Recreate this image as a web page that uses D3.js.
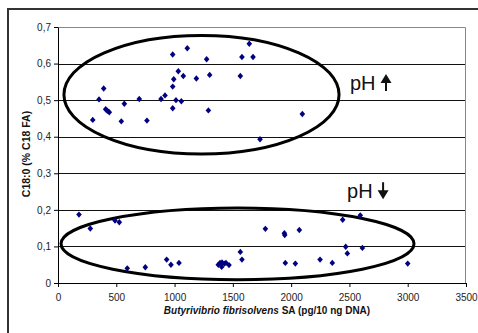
<!DOCTYPE html>
<html>
<head>
<meta charset="utf-8">
<script src="https://cdn.jsdelivr.net/npm/d3@7"></script>
<style>
  body { margin: 0; background: #fff; }
  svg { display: block; font-family: Arial, "Liberation Sans", sans-serif; }
</style>
</head>
<body>
<div id="chart"></div>
<script>
  // Upper group (pH up)
  const highX = [298, 352, 392, 409, 423, 440, 543, 569, 697, 763, 884, 918, 984, 984, 984, 993, 1012, 1032, 1058, 1075,
                 1109, 1187, 1275, 1290, 1301, 1564, 1578, 1641, 1673, 1733, 2096];
  const highY = [0.446, 0.502, 0.532, 0.475, 0.471, 0.467, 0.442, 0.490, 0.503, 0.444, 0.503, 0.513, 0.625, 0.537, 0.478, 0.557, 0.500, 0.579, 0.497, 0.566,
                 0.642, 0.559, 0.612, 0.472, 0.569, 0.566, 0.618, 0.654, 0.618, 0.393, 0.462];

  // Lower group (pH down)
  const lowX = [180, 277, 489, 526, 594, 749, 932, 969, 1038, 1375, 1390, 1404, 1407, 1427, 1441, 1467, 1564, 1578,
                1779, 1942, 1945, 1950, 2036, 2070, 2248, 2353, 2442, 2468, 2482, 2593, 2611, 3000];
  const lowY = [0.187, 0.149, 0.171, 0.166, 0.040, 0.043, 0.064, 0.050, 0.055, 0.050, 0.055, 0.044, 0.056, 0.053, 0.055, 0.049, 0.085, 0.064,
                0.148, 0.136, 0.131, 0.055, 0.053, 0.145, 0.064, 0.055, 0.173, 0.099, 0.081, 0.185, 0.096, 0.053];

  // Ellipses drawn round each group, in data units: [cx, cy, rx, ry]
  const highEllipse = [1231, 0.515, 1180, 0.162];
  const lowEllipse = [1540, 0.107, 1514, 0.098];

  const xTicks = [0, 500, 1000, 1500, 2000, 2500, 3000, 3500];
  const yTicks = [0, 0.1, 0.2, 0.3, 0.4, 0.5, 0.6, 0.7];
  const yTickLabels = ["0", "0,1", "0,2", "0,3", "0,4", "0,5", "0,6", "0,7"];

  const W = 478, H = 333;
  const margin = { top: 27, right: 12, bottom: 50, left: 58 };
  const width = W - margin.left - margin.right;
  const height = H - margin.top - margin.bottom;

  const svg = d3.select("#chart").append("svg")
      .attr("width", W)
      .attr("height", H);

  // outer chart frame (cropped on right/bottom)
  svg.append("rect")
      .attr("x", 8).attr("y", 9)
      .attr("width", W + 20).attr("height", H + 20)
      .attr("fill", "none")
      .attr("stroke", "#333")
      .attr("stroke-width", 2);

  const g = svg.append("g")
      .attr("transform", `translate(${margin.left},${margin.top})`);

  const x = d3.scaleLinear().domain([0, 3500]).range([0, width]);
  const y = d3.scaleLinear().domain([0, 0.7]).range([height, 0]);

  // gridlines
  g.append("g")
      .selectAll("line")
      .data(yTicks.slice(1, -1))
      .enter().append("line")
      .attr("x1", 0).attr("x2", width)
      .attr("y1", d => Math.round(y(d)) + 0.5)
      .attr("y2", d => Math.round(y(d)) + 0.5)
      .attr("stroke", "#111")
      .attr("stroke-width", 1);

  // plot area border (top/right)
  g.append("path")
      .attr("d", `M0,0.5H${width - 0.5}V${height}`)
      .attr("fill", "none")
      .attr("stroke", "#888")
      .attr("stroke-width", 1);

  // axes
  const xAxis = g.append("g")
      .attr("transform", `translate(0,${height})`)
      .call(d3.axisBottom(x).tickValues(xTicks).tickSize(4).tickSizeOuter(0).tickFormat(d3.format("d")));
  const yAxis = g.append("g")
      .call(d3.axisLeft(y).tickValues(yTicks).tickSize(4).tickSizeOuter(0)
          .tickFormat((d, i) => yTickLabels[i]));

  [xAxis, yAxis].forEach(a => {
      a.select(".domain").attr("stroke", "#000");
      a.selectAll(".tick line").attr("stroke", "#000");
      a.selectAll("text")
          .attr("fill", "#222")
          .style("font-size", "10px")
          .style("font-family", "Arial, 'Liberation Sans', sans-serif");
  });
  xAxis.selectAll("text").attr("dy", "1.1em");
  yAxis.selectAll("text").attr("x", -7);

  // ellipses
  [highEllipse, lowEllipse].forEach(e => {
      g.append("ellipse")
          .attr("cx", x(e[0]))
          .attr("cy", y(e[1]))
          .attr("rx", x(e[2]) - x(0))
          .attr("ry", y(0) - y(e[3]))
          .attr("fill", "none")
          .attr("stroke", "#000")
          .attr("stroke-width", 3);
  });

  // points
  const points = highX.map((v, i) => [v, highY[i]])
      .concat(lowX.map((v, i) => [v, lowY[i]]));
  g.selectAll(".pt")
      .data(points)
      .enter().append("path")
      .attr("class", "pt")
      .attr("transform", d => `translate(${x(d[0])},${y(d[1])})`)
      .attr("d", "M0,-3.2L2.8,0L0,3.2L-2.8,0Z")
      .attr("fill", "#000080");

  // pH labels with arrows
  const phLabel = (tx, ty, up) => {
      g.append("text")
          .attr("x", tx).attr("y", ty)
          .style("font-size", "20px")
          .attr("fill", "#111")
          .text("pH");
      const ax = tx + 36, top = ty - 16, bot = ty + 1;
      const path = up
          ? `M${ax},${top}L${ax + 5.5},${top + 9}L${ax + 1},${top + 9}L${ax + 1},${bot}L${ax - 1},${bot}L${ax - 1},${top + 9}L${ax - 5.5},${top + 9}Z`
          : `M${ax},${bot}L${ax + 5.5},${bot - 9}L${ax + 1},${bot - 9}L${ax + 1},${top}L${ax - 1},${top}L${ax - 1},${bot - 9}L${ax - 5.5},${bot - 9}Z`;
      g.append("path").attr("d", path).attr("fill", "#111");
  };
  phLabel(x(2505), y(0.528), true);
  phLabel(x(2480), y(0.232), false);

  // axis titles
  const xt = svg.append("text")
      .attr("x", 267)
      .attr("y", 314)
      .attr("text-anchor", "middle")
      .style("font-size", "10px")
      .style("font-weight", "bold")
      .attr("fill", "#111");
  xt.append("tspan").style("font-style", "italic").text("Butyrivibrio fibrisolvens");
  xt.append("tspan").text(" SA (pg/10 ng DNA)");

  svg.append("text")
      .attr("transform", `translate(30,154) rotate(-90)`)
      .attr("text-anchor", "middle")
      .style("font-size", "10.5px")
      .style("font-weight", "bold")
      .attr("fill", "#111")
      .text("C18:0 (% C18 FA)");
</script>
</body>
</html>
